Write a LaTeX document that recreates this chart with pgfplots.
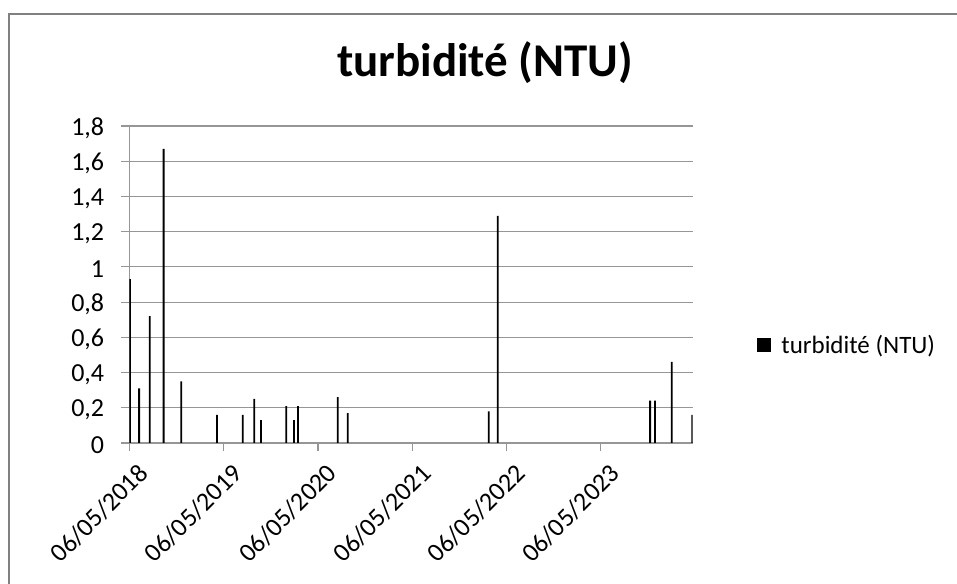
\documentclass[border=0pt]{standalone}
\usepackage{fontspec}
\setmainfont{Carlito}
\usepackage{pgfplots}
\pgfplotsset{compat=1.18}
\usepackage{pgfplotstable}

\definecolor{gridgray}{RGB}{150,150,150}
\definecolor{framegray}{RGB}{128,128,128}

% turbidity samples: days after 06/05/2018, value in NTU
\pgfplotstableread{
day value
3 0.93
38 0.31
79 0.72
133 1.67
201 0.35
340 0.16
439 0.16
484 0.25
510 0.13
608 0.21
638 0.13
653 0.21
807 0.26
846 0.17
1392 0.18
1427 1.29
2017 0.24
2036 0.24
2101 0.46
2180 0.16
}\turbidity

\begin{document}
\begin{tikzpicture}
\useasboundingbox (0bp,0bp) rectangle (957bp,584bp);
\draw[framegray, line width=2.2bp] (9bp,0bp) -- (9bp,570bp) -- (957bp,570bp);
\node[font=\fontsize{47bp}{54bp}\selectfont\bfseries, anchor=base, inner sep=0pt]
  at (485bp,507bp) {turbidité (NTU)};
\begin{axis}[
  at={(129.3bp,141bp)}, anchor=south west,
  scale only axis, width=563.4bp, height=317bp,
  xmin=0, xmax=2182, ymin=0, ymax=1.8,
  axis lines=left,
  axis line style={-, gridgray, line width=1.2bp},
  tick align=outside, major tick length=8bp,
  tick style={gridgray, line width=1.2bp},
  ymajorgrids, major grid style={gridgray, line width=1.2bp},
  ytick={0,0.2,0.4,0.6,0.8,1,1.2,1.4,1.6,1.8},
  xtick={0,365,731,1096,1461,1826},
  xticklabels={06/05/2018,06/05/2019,06/05/2020,06/05/2021,06/05/2022,06/05/2023},
  /pgf/number format/.cd, use comma, fixed, precision=1, assume math mode=true,
  /pgfplots/.cd,
  yticklabel style={font=\fontsize{26bp}{31bp}\selectfont, anchor=east, inner sep=0pt,
    xshift=-17bp, yshift=-2bp},
  xticklabel style={font=\fontsize{26bp}{31bp}\selectfont, rotate=45, anchor=north east,
    inner sep=0pt, xshift=-2.5bp, yshift=-13bp},
  legend style={at={(1.1145,0.309)}, anchor=west, draw=none, fill=none, inner sep=0pt,
    font=\fontsize{25bp}{30bp}\selectfont},
  legend cell align=left,
]
\addplot[ybar, bar width=1.8bp, fill=black, draw=none,
  legend image code/.code={\fill[black] (0bp,-7bp) rectangle (14bp,7bp);
    \path (22bp,0bp);}]
  table[x=day, y=value] {\turbidity};
\addlegendentry{turbidité (NTU)}
\end{axis}
\end{tikzpicture}
\end{document}
